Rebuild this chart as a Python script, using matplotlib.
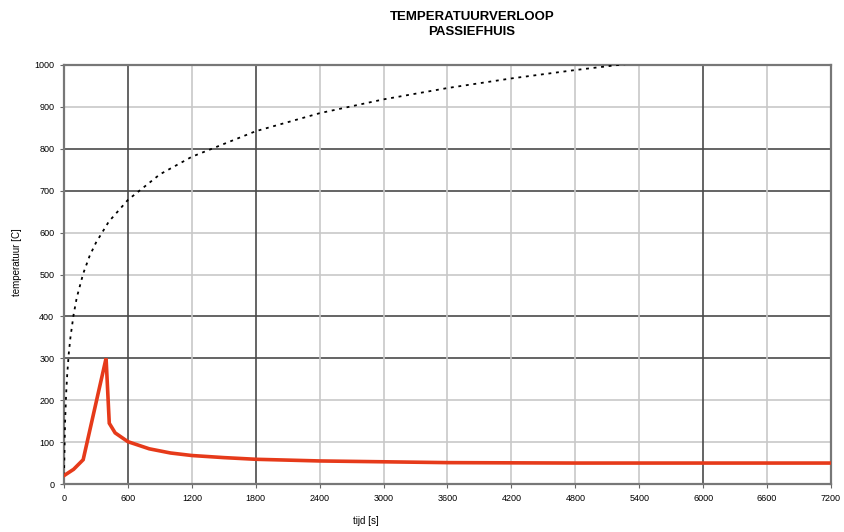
import numpy as np
import matplotlib.pyplot as plt

plt.rcParams['font.family'] = ['Liberation Sans Narrow', 'Liberation Sans', 'DejaVu Sans']

t_iso = [0, 10, 20, 30, 45, 60, 90, 120, 180, 240, 300, 420, 600, 900, 1200,
         1800, 2400, 3000, 3600, 4200, 4800, 5400]
T_iso = [20, 147, 215, 261, 312, 349, 404, 445, 502, 544, 576, 626, 678, 739, 781,
         842, 885, 918, 945, 968, 988, 1006]

t_ph = [0, 90, 180, 395, 425, 480, 600, 800, 1000, 1200, 1500, 1800, 2400,
        3000, 3600, 4800, 6000, 7200]
T_ph = [20, 35, 58, 300, 145, 122, 101, 84, 74, 68, 63, 59, 55, 53, 51, 50, 50, 50]

x_ticks = list(range(0, 7201, 600))
y_ticks = list(range(0, 1001, 100))

fig = plt.figure(figsize=(8.45, 5.32), dpi=100)
ax = fig.add_axes([64/845, 48/532, 767/845, 419/532])

# rasterlijnen (sommige donkerder, zoals in het origineel)
dark_h = [300, 400, 700, 800]
dark_v = [600, 1800, 6000]
for y in y_ticks[1:-1]:
    ax.axhline(y, color='#4a4a4a' if y in dark_h else '#c8c8c8', lw=1.2, zorder=1)
for x in x_ticks[1:-1]:
    ax.axvline(x, color='#4a4a4a' if x in dark_v else '#c8c8c8', lw=1.2, zorder=1)

ax.plot(t_iso, T_iso, color='black', lw=1.3, ls=(0, (1.6, 2.6)), zorder=3)
ax.plot(t_ph, T_ph, color='#E63A1A', lw=2.6, zorder=4, solid_joinstyle='miter')

ax.set_xlim(0, 7200)
ax.set_ylim(0, 1000)
ax.set_xticks(x_ticks)
ax.set_yticks(y_ticks)
ax.tick_params(labelsize=6.5, length=3, color='#666666', pad=4)
for s in ax.spines.values():
    s.set_color('#777777')
    s.set_linewidth(1.6)

fig.text(472/845, 1 - 17/532, 'TEMPERATUURVERLOOP', ha='center', va='center',
         fontsize=9.5, fontweight='bold')
fig.text(472/845, 1 - 32/532, 'PASSIEFHUIS', ha='center', va='center',
         fontsize=9.5, fontweight='bold')
fig.text(17/845, 1 - 262/532, 'temperatuur [C]', rotation=90, ha='center',
         va='center', fontsize=7)
fig.text(366/845, 1 - 521/532, 'tijd [s]', ha='center', va='center', fontsize=7)

fig.savefig('out.png', dpi=100)
